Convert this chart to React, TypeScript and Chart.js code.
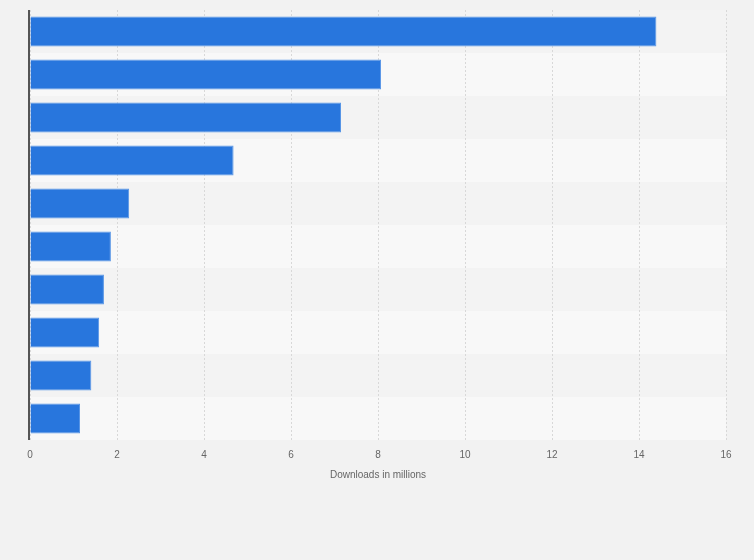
import React, { useEffect, useRef } from "react";
import { Chart, registerables } from "chart.js";

Chart.register(...registerables);

const categories: string[] = ["1", "2", "3", "4", "5", "6", "7", "8", "9", "10"];
const downloads: number[] = [14.4, 8.07, 7.15, 4.68, 2.28, 1.86, 1.7, 1.59, 1.41, 1.15];
const axisTitle = "Downloads in millions";

const BG = "#f2f2f2";

const bandsPlugin = {
  id: "bands",
  beforeDraw(chart: any) {
    const { ctx, chartArea, scales } = chart;
    ctx.save();
    ctx.fillStyle = BG;
    ctx.fillRect(0, 0, chart.width, chart.height);
    const y = scales.y;
    const n = categories.length;
    const h = (chartArea.bottom - chartArea.top) / n;
    for (let i = 0; i < n; i++) {
      const c = y.getPixelForValue(i);
      ctx.fillStyle = i % 2 === 0 ? "#f3f3f3" : "#f8f8f8";
      ctx.fillRect(chartArea.left, c - h / 2, chartArea.right - chartArea.left, h);
    }
    ctx.restore();
  },
  afterDraw(chart: any) {
    const { ctx, chartArea } = chart;
    ctx.save();
    ctx.strokeStyle = "#555555";
    ctx.lineWidth = 2;
    ctx.beginPath();
    ctx.moveTo(chartArea.left - 1, chartArea.top);
    ctx.lineTo(chartArea.left - 1, chartArea.bottom);
    ctx.stroke();
    ctx.restore();
  },
};

export default function App() {
  const ref = useRef<HTMLCanvasElement | null>(null);
  useEffect(() => {
    if (!ref.current) return;
    const chart = new Chart(ref.current, {
      type: "bar",
      data: {
        labels: categories,
        datasets: [
          {
            data: downloads,
            backgroundColor: "#2876dd",
            borderColor: "#5996e6",
            borderWidth: 1,
            barPercentage: 0.7,
            categoryPercentage: 1,
          },
        ],
      },
      options: {
        indexAxis: "y",
        animation: false,
        responsive: false,
        maintainAspectRatio: false,
        layout: { padding: { left: 30, right: 28, top: 10, bottom: 79 } },
        plugins: { legend: { display: false }, tooltip: { enabled: false } },
        scales: {
          x: {
            min: 0,
            max: 16,
            ticks: {
              stepSize: 2,
              color: "#666666",
              padding: 9,
              font: { family: "'Liberation Sans', Arial, sans-serif", size: 10 },
            },
            grid: { color: "#d8d8d8", lineWidth: 1, drawTicks: false },
            border: { display: false, dash: [2, 2] },
            title: {
              display: true,
              text: axisTitle,
              color: "#666666",
              padding: { top: -1, bottom: 0 },
              font: { family: "'Liberation Sans', Arial, sans-serif", size: 10 },
            },
          },
          y: { display: false },
        },
      },
      plugins: [bandsPlugin],
    });
    return () => chart.destroy();
  }, []);
  return (
    <div style={{ position: "fixed", left: 0, top: 0, width: 754, height: 560, background: BG }}>
      <canvas ref={ref} width={754} height={560} style={{ display: "block" }} />
    </div>
  );
}
